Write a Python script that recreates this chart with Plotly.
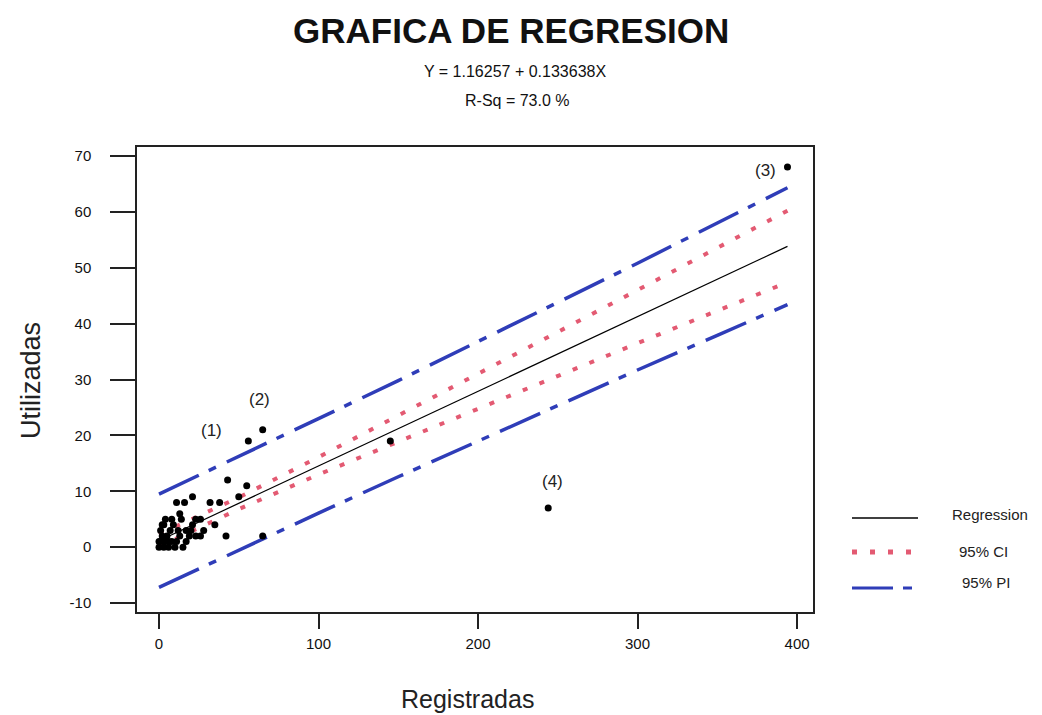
import plotly.graph_objects as go

# Fitted equation reported in the subtitle
B0 = 1.16257
B1 = 0.133638
R_SQ = 73.0

# Observations: registered vs. used
registradas = [65, 56, 145, 394, 244, 43, 55, 21, 11, 16, 50, 32, 38, 42, 65, 35,
               4, 14, 23, 26, 3, 9, 17, 21, 1, 7, 13, 26, 1, 6, 11, 17, 23, 3, 10,
               15, 5, 8, 2, 12, 19, 4, 8, 6, 0, 20, 28, 0, 2, 13]
utilizadas = [21, 19, 19, 68, 7, 12, 11, 9, 8, 8, 9, 8, 8, 2, 2, 4,
              5, 5, 5, 5, 4, 4, 3, 4, 3, 3, 2, 2, 1, 1, 1, 1, 2, 0, 0,
              0, 2, 5, 2, 3, 2, 1, 1, 0, 1, 3, 3, 0, 4, 6]

# Labelled outliers: label -> index into the observation lists
outlier_labels = ["(1)", "(2)", "(3)", "(4)"]
outlier_index = [1, 0, 3, 4]

# 95% confidence and prediction bands
band_x = [0, 50, 100, 150, 200, 250, 300, 350, 394]
ci_upper = [2.3, 8.9, 16.1, 23.5, 31.0, 38.5, 46.0, 53.6, 60.2]
ci_lower = [0.1, 6.8, 13.0, 18.9, 24.8, 30.6, 36.5, 42.3, 47.4]
pi_upper = [9.5, 16.2, 23.0, 29.8, 36.8, 43.8, 50.8, 58.0, 64.3]
pi_lower = [-7.2, -0.5, 6.1, 12.6, 19.0, 25.4, 31.7, 37.9, 43.4]

x_ticks = [0, 100, 200, 300, 400]
y_ticks = [-10, 0, 10, 20, 30, 40, 50, 60, 70]

fit_x = [band_x[0], band_x[-1]]
fit_y = [B0 + B1 * x for x in fit_x]

W, H = 1042, 715
M_L, M_R, M_T, M_B = 137, 229, 147, 103

CI_COLOR = "#e35a72"
PI_COLOR = "#2f3db8"
CI_DASH = "5px,13px"
PI_DASH = "44px,11px,8px,12px"
SANS = "Liberation Sans, Arial, Helvetica, sans-serif"

fig = go.Figure()

for ys in (pi_upper, pi_lower):
    fig.add_trace(go.Scatter(x=band_x, y=ys, mode="lines", showlegend=False,
                             line=dict(color=PI_COLOR, width=3.5, dash=PI_DASH)))
for ys in (ci_upper, ci_lower):
    fig.add_trace(go.Scatter(x=band_x, y=ys, mode="lines", showlegend=False,
                             line=dict(color=CI_COLOR, width=4, dash=CI_DASH)))

fig.add_trace(go.Scatter(x=fit_x, y=fit_y, mode="lines", showlegend=False,
                         line=dict(color="black", width=1.2)))

fig.add_trace(go.Scatter(x=registradas, y=utilizadas, mode="markers", showlegend=False,
                         marker=dict(color="black", size=7, symbol="circle")))

# Outlier labels, offset in pixels from their points
label_shift = [(-37, 10), (-3, 30), (-22, -3), (4, 27)]
annotations = []
for lab, idx, (dx, dy) in zip(outlier_labels, outlier_index, label_shift):
    annotations.append(dict(x=registradas[idx], y=utilizadas[idx], xref="x", yref="y",
                            text=lab, showarrow=False, xshift=dx, yshift=dy,
                            font=dict(family=SANS, size=17, color="#222")))


def px(xp, yp):
    """Pixel position on the page -> paper coordinates."""
    pw = W - M_L - M_R
    ph = H - M_T - M_B
    return (xp - M_L) / pw, (H - M_B - yp) / ph


# Title block
for text, (xp, yp), size, bold in [
    ("GRAFICA DE REGRESION", (511, 31), 35, True),
    (f"Y = {B0} + {B1}X", (515, 72), 16, False),
    (f"R-Sq = {R_SQ:.1f} %", (517, 100), 16, False),
]:
    xx, yy = px(xp, yp)
    annotations.append(dict(x=xx, y=yy, xref="paper", yref="paper", showarrow=False,
                            text=f"<b>{text}</b>" if bold else text,
                            xanchor="center", yanchor="middle",
                            font=dict(family=SANS, size=size, color="#111")))

# Axis titles
xx, yy = px(467, 699)
annotations.append(dict(x=xx, y=yy, xref="paper", yref="paper", showarrow=False,
                        text="Registradas", xanchor="center", yanchor="middle",
                        font=dict(family=SANS, size=25, color="#222")))
xx, yy = px(31, 381)
annotations.append(dict(x=xx, y=yy, xref="paper", yref="paper", showarrow=False,
                        text="Utilizadas", textangle=-90, xanchor="center", yanchor="middle",
                        font=dict(family=SANS, size=27, color="#222")))

# Legend block
shapes = []
legend_rows = [
    ("Regression", 518, dict(color="black", width=1.3, dash="solid"), 990, 514),
    ("95% CI", 552, dict(color=CI_COLOR, width=5, dash="5px,13px"), 984, 551),
    ("95% PI", 588, dict(color=PI_COLOR, width=3, dash="41px,10px,9px,40px"), 986, 582),
]
for text, yp, line, tx, ty in legend_rows:
    x0, y0 = px(852, yp)
    x1, _ = px(918, yp)
    shapes.append(dict(type="line", xref="paper", yref="paper",
                       x0=x0, x1=x1, y0=y0, y1=y0, line=line))
    lx, ly = px(tx, ty)
    annotations.append(dict(x=lx, y=ly, xref="paper", yref="paper", showarrow=False,
                            text=text, xanchor="center", yanchor="middle",
                            font=dict(family=SANS, size=15, color="#222")))

fig.update_layout(
    width=W, height=H, autosize=False,
    margin=dict(l=M_L, r=M_R, t=M_T, b=M_B, pad=0),
    paper_bgcolor="white", plot_bgcolor="white",
    showlegend=False,
    annotations=annotations,
    shapes=shapes,
    xaxis=dict(range=[-13.8, 410], tickvals=x_ticks, ticktext=[str(v) for v in x_ticks],
               ticks="outside", ticklen=15,
               tickwidth=2, tickcolor="#222", showgrid=False, zeroline=False,
               showline=True, linecolor="#222", linewidth=1.5, mirror=True,
               ticklabelstandoff=2,
               tickfont=dict(family=SANS, size=15, color="#111")),
    yaxis=dict(range=[-11.6, 71.6], tickvals=y_ticks, ticktext=[str(v) for v in y_ticks],
               ticks="outside", ticklen=25,
               tickwidth=2, tickcolor="#222", showgrid=False, zeroline=False,
               showline=True, linecolor="#222", linewidth=1.5, mirror=True,
               ticklabelstandoff=16,
               tickfont=dict(family=SANS, size=15, color="#111")),
)

fig.write_html("out.html")
